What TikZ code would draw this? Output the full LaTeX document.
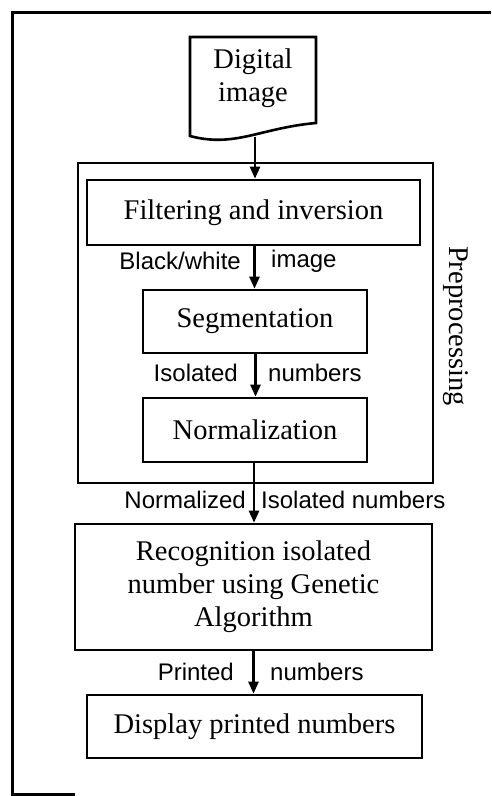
\documentclass[tikz,border=0pt]{standalone}
\usepackage{fontspec}
\setmainfont{Liberation Serif}
\newfontfamily\labfont{Liberation Sans}
\usetikzlibrary{arrows.meta}
\tikzset{
  boxtxt/.style={font=\fontsize{28.5pt}{33pt}\selectfont, align=center},
  procbox/.style={draw, line width=2.6pt, rectangle, inner sep=0pt, boxtxt},
  lab/.style={font=\labfont\fontsize{24pt}{28pt}\selectfont, inner sep=0pt},
  flow/.style={line width=2.4pt, -{Triangle[length=12pt,width=10pt]}},
  frame/.style={line width=3pt}
}
\begin{document}
\begin{tikzpicture}[x=1pt,y=-1pt]
\useasboundingbox (0,0) rectangle (491,796);
% outer frame
\draw[frame] (491,12) -- (12,12) -- (12,794) -- (75,794);
% preprocessing group
\node[draw, line width=2.6pt, minimum width=355pt, minimum height=320pt, inner sep=0pt] (pre) at (255.5,323) {};
\node[boxtxt, rotate=-90] (prelab) at (456,326) {Preprocessing};
% document shape
\draw[line width=2.6pt] (190,37) -- (316,37) -- (316,123)
  .. controls (260,128) and (235,148) .. (190,136) -- cycle;
\node[boxtxt] (doc) at (253,78) {Digital\\image};
\coordinate (docb) at (255,136.5);
% boxes
\node[procbox, minimum width=333pt, minimum height=65pt] (filt) at (253.5,212.5) {Filtering and inversion};
\node[procbox, minimum width=224pt, minimum height=63pt] (seg) at (255,321.5) {Segmentation};
\node[procbox, minimum width=224pt, minimum height=64pt] (norm) at (255,430) {Normalization};
\node[procbox, minimum width=357pt, minimum height=126pt] (rec) at (253.5,587) {Recognition isolated\\number using Genetic\\Algorithm};
\node[procbox, minimum width=335pt, minimum height=63pt] (disp) at (254.5,726.5) {Display printed numbers};
% connectors
\draw[flow] (docb) -- (docb |- filt.north);
\draw[flow] (filt.south -| 254.5,0) -- (254.5,0 |- seg.north);
\draw[flow] (seg.south -| 255.5,0) -- (255.5,0 |- norm.north);
\draw[flow] (norm.south -| 254,0) -- (254,0 |- rec.north);
\draw[flow] (rec.south -| 253.5,0) -- (253.5,0 |- disp.north);
% labels
\node[lab, anchor=east] (l1a) at (241,261) {Black/white};
\node[lab, anchor=west] (l1b) at (271,261) {image};
\node[lab, anchor=east] (l2a) at (238,373) {Isolated};
\node[lab, anchor=west] (l2b) at (268,373) {numbers};
\node[lab, anchor=east] (l3a) at (246,500) {Normalized};
\node[lab, anchor=west] (l3b) at (261,500) {Isolated numbers};
\node[lab, anchor=east] (l4a) at (234,672) {Printed};
\node[lab, anchor=west] (l4b) at (270,672) {numbers};
\end{tikzpicture}
\end{document}
